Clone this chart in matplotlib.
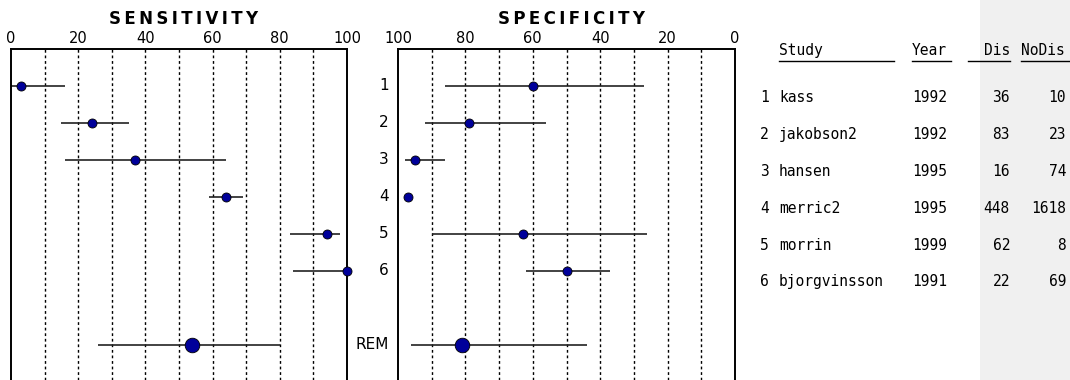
import numpy as np
import matplotlib
matplotlib.use("Agg")
import matplotlib.pyplot as plt
import matplotlib.lines as mlines
import matplotlib.patches as mpatches
from matplotlib import transforms

studies = ['kass', 'jakobson2', 'hansen', 'merric2', 'morrin', 'bjorgvinsson']
years = [1992, 1992, 1995, 1995, 1999, 1991]
dis = [36, 83, 16, 448, 62, 22]
nodis = [10, 23, 74, 1618, 8, 69]

sens = [3, 24, 37, 64, 94, 100]
sens_lo = [0, 15, 16, 59, 83, 84]
sens_hi = [16, 35, 64, 69, 98, 100]
spec = [60, 79, 95, 97, 63, 50]
spec_lo = [27, 56, 86, 97, 26, 37]
spec_hi = [86, 92, 98, 97, 90, 62]

rem_sens, rem_sens_lo, rem_sens_hi = 54, 26, 80
rem_spec, rem_spec_lo, rem_spec_hi = 81, 44, 96

W, H = 1070, 380
fig = plt.figure(figsize=(W / 100, H / 100), dpi=100)

# grey band behind the NoDis column
fig.patches.append(mpatches.Rectangle((980 / W, 0), 1 - 980 / W, 1, transform=fig.transFigure,
                                      facecolor='#f0f0f0', edgecolor='none', zorder=0))

rows = np.arange(1, len(studies) + 1)
rem_row = len(studies) + 2
ylim = (8.95, 0)
top = 1 - 49 / H

ax1 = fig.add_axes([11 / W, 0, 336 / W, top])
ax2 = fig.add_axes([398 / W, 0, 337 / W, top])


def style(ax, xlim, ticks):
    ax.set_xlim(*xlim)
    ax.set_ylim(*ylim)
    ax.xaxis.tick_top()
    ax.set_xticks(ticks)
    ax.tick_params(axis='x', length=0, pad=2, labelsize=10.5)
    ax.set_yticks([])
    ax.spines['bottom'].set_visible(False)
    for s in ['top', 'left', 'right']:
        ax.spines[s].set_linewidth(1.4)
    for g in range(10, 100, 10):
        ax.axvline(g, color='black', lw=1, ls=(0, (2, 2)), zorder=1)
    ax.set_facecolor('white')


style(ax1, (0, 100), range(0, 101, 20))
style(ax2, (100, 0), range(100, -1, -20))

thin = '\u2009'
fig.text(184 / W, 1 - 19 / H, thin.join('SENSITIVITY'), ha='center', va='center',
         fontsize=12, fontweight='bold')
fig.text(572 / W, 1 - 19 / H, thin.join('SPECIFICITY'), ha='center', va='center',
         fontsize=12, fontweight='bold')

for ax, v, lo, hi, r, rlo, rhi in [(ax1, sens, sens_lo, sens_hi, rem_sens, rem_sens_lo, rem_sens_hi),
                                   (ax2, spec, spec_lo, spec_hi, rem_spec, rem_spec_lo, rem_spec_hi)]:
    ax.hlines(rows, lo, hi, color='#222222', lw=1.2, zorder=2)
    ax.plot(v, rows, 'o', ms=6.5, mfc='#00009a', mec='black', mew=0.6, zorder=3, clip_on=False)
    ax.hlines([rem_row], [rlo], [rhi], color='#222222', lw=1.2, zorder=2)
    ax.plot([r], [rem_row], 'o', ms=10.5, mfc='#00009a', mec='black', mew=0.6, zorder=3)

# row labels between panels
lab_tr = transforms.blended_transform_factory(fig.transFigure, ax2.transData)
for i in rows:
    fig.text(389 / W, i, str(i), transform=lab_tr, ha='right', va='center', fontsize=11)
fig.text(389 / W, rem_row, 'REM', transform=lab_tr, ha='right', va='center', fontsize=11)

# study table
fs = 10.5
mono = 'DejaVu Sans Mono'
hdr_y = 0.05


def cell(x, y, s, ha='left'):
    fig.text(x / W, y, s, transform=lab_tr, va='center', ha=ha, fontsize=fs, family=mono)


cell(779, hdr_y, 'Study')
cell(912, hdr_y, 'Year')
cell(1010, hdr_y, 'Dis', ha='right')
cell(1021, hdr_y, 'NoDis')
for x0, x1 in [(779, 894), (912, 951), (968, 1010), (1021, 1070)]:
    fig.add_artist(mlines.Line2D([x0 / W, x1 / W], [0.32, 0.32], transform=lab_tr,
                                 color='black', lw=1))

for i, (s, y, d, n) in enumerate(zip(studies, years, dis, nodis)):
    ry = rows[i] + 0.3
    cell(760, ry, str(rows[i]))
    cell(779, ry, s)
    cell(912, ry, str(y))
    cell(1010, ry, str(d), ha='right')
    cell(1066, ry, str(n), ha='right')

fig.savefig('out.png', dpi=100, facecolor='white')
